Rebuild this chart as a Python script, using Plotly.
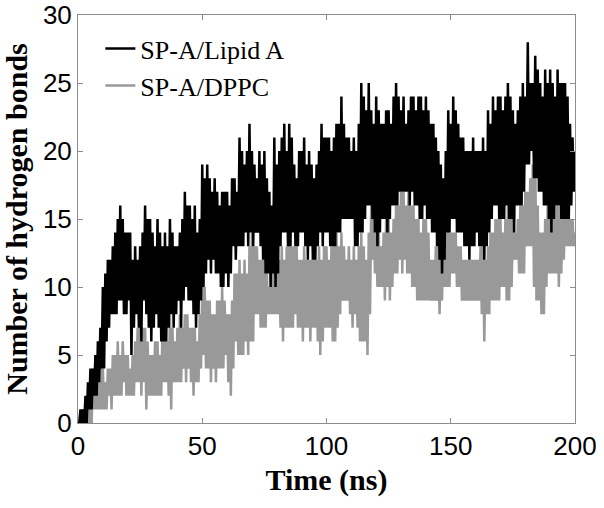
import plotly.graph_objects as go

# Time axis (ns), one sample every 0.5 ns
time_ns = [i * 0.5 for i in range(0, 401)]

# SP-A/Lipid A hydrogen bonds, 10 samples = 5 ns per row
lipid_a = [
    0, 0, 1, 0, 1, 0, 2, 0, 3, 1,
    4, 1, 4, 2, 5, 2, 6, 3, 7, 4,
    10, 4, 11, 6, 12, 7, 12, 8, 13, 8,
    14, 8, 15, 9, 16, 9, 15, 8, 14, 8,
    14, 9, 14, 5, 12, 7, 13, 8, 12, 7,
    13, 6, 14, 9, 16, 8, 15, 7, 15, 6,
    14, 7, 13, 8, 15, 7, 14, 6, 13, 6,
    14, 6, 13, 7, 15, 8, 14, 7, 13, 8,
    13, 9, 14, 7, 15, 9, 17, 10, 16, 9,
    16, 9, 15, 8, 16, 7, 14, 8, 15, 9,
    19, 10, 18, 11, 19, 12, 18, 11, 17, 12,
    18, 11, 17, 11, 16, 10, 17, 10, 17, 11,
    17, 10, 16, 11, 18, 13, 18, 12, 17, 13,
    21, 13, 20, 13, 19, 14, 20, 13, 22, 14,
    20, 13, 19, 14, 18, 14, 20, 13, 19, 12,
    20, 11, 18, 11, 17, 10, 16, 11, 21, 10,
    19, 11, 20, 13, 21, 14, 22, 14, 20, 13,
    22, 13, 21, 14, 19, 13, 18, 13, 20, 14,
    20, 14, 21, 13, 19, 12, 20, 13, 19, 12,
    18, 12, 19, 13, 20, 14, 22, 13, 21, 14,
    21, 14, 21, 13, 20, 13, 21, 13, 22, 14,
    22, 14, 24, 15, 22, 15, 21, 15, 21, 15,
    20, 15, 21, 13, 20, 13, 22, 14, 25, 14,
    24, 15, 23, 16, 25, 16, 23, 15, 22, 14,
    24, 13, 23, 14, 22, 15, 22, 15, 23, 14,
    23, 15, 22, 16, 24, 16, 25, 16, 24, 17,
    23, 17, 24, 17, 22, 17, 23, 16, 24, 17,
    24, 16, 23, 16, 24, 15, 24, 15, 23, 16,
    24, 15, 23, 15, 22, 14, 22, 14, 21, 13,
    20, 12, 19, 11, 18, 12, 20, 14, 23, 14,
    22, 15, 24, 15, 23, 14, 22, 14, 21, 14,
    21, 13, 20, 13, 20, 12, 20, 13, 21, 13,
    20, 14, 20, 13, 20, 13, 21, 12, 20, 13,
    23, 14, 22, 15, 24, 16, 23, 16, 24, 15,
    24, 15, 23, 15, 24, 16, 25, 15, 24, 15,
    23, 14, 22, 16, 23, 16, 24, 16, 25, 17,
    24, 19, 28, 19, 25, 20, 25, 18, 27, 18,
    26, 17, 25, 17, 24, 16, 26, 16, 25, 15,
    26, 14, 25, 15, 24, 16, 26, 16, 25, 15,
    25, 15, 25, 15, 24, 15, 22, 16, 21, 17,
    20,
]

# SP-A/DPPC hydrogen bonds, 10 samples = 5 ns per row
dppc = [
    0, 0, 0, 0, 1, 0, 1, 0, 2, 0,
    3, 0, 4, 1, 5, 1, 4, 1, 5, 1,
    4, 1, 3, 1, 4, 2, 4, 1, 5, 2,
    5, 2, 6, 2, 5, 2, 6, 3, 5, 2,
    5, 2, 4, 2, 5, 2, 6, 3, 7, 3,
    8, 2, 7, 3, 7, 1, 6, 2, 5, 2,
    5, 2, 6, 2, 6, 2, 5, 2, 7, 3,
    7, 3, 6, 2, 8, 1, 7, 3, 6, 3,
    7, 3, 8, 3, 7, 4, 8, 3, 8, 4,
    7, 3, 7, 2, 7, 3, 6, 3, 8, 4,
    10, 5, 10, 4, 9, 4, 9, 3, 8, 4,
    8, 3, 9, 4, 9, 4, 10, 4, 9, 5,
    8, 3, 8, 2, 9, 4, 11, 6, 11, 5,
    12, 5, 11, 5, 12, 6, 11, 5, 13, 6,
    14, 6, 13, 8, 13, 8, 12, 7, 12, 7,
    12, 7, 11, 8, 10, 8, 11, 8, 12, 8,
    12, 8, 12, 7, 13, 6, 12, 7, 13, 7,
    14, 7, 13, 7, 13, 8, 13, 7, 12, 7,
    12, 6, 13, 7, 12, 7, 12, 6, 12, 7,
    13, 7, 12, 6, 13, 5, 12, 6, 13, 7,
    13, 7, 12, 7, 13, 6, 14, 6, 14, 7,
    13, 8, 14, 9, 13, 9, 12, 9, 13, 8,
    12, 7, 13, 8, 12, 7, 13, 6, 14, 6,
    13, 6, 12, 5, 14, 8, 16, 12, 15, 11,
    14, 10, 14, 10, 13, 10, 14, 9, 15, 10,
    15, 9, 14, 10, 15, 11, 16, 11, 16, 12,
    17, 11, 17, 12, 16, 11, 17, 11, 16, 10,
    16, 10, 15, 9, 15, 9, 14, 9, 15, 9,
    15, 9, 14, 9, 12, 9, 12, 9, 13, 9,
    13, 8, 13, 9, 15, 10, 16, 10, 15, 10,
    14, 11, 14, 11, 14, 10, 13, 10, 13, 9,
    12, 9, 12, 9, 12, 9, 12, 9, 12, 9,
    12, 9, 12, 9, 13, 8, 13, 6, 12, 8,
    13, 8, 14, 9, 14, 9, 15, 9, 15, 9,
    15, 10, 14, 10, 15, 9, 16, 9, 16, 10,
    15, 12, 14, 12, 15, 11, 16, 11, 16, 11,
    17, 13, 17, 13, 18, 13, 19, 10, 20, 9,
    16, 9, 14, 8, 14, 8, 15, 10, 16, 11,
    17, 11, 16, 11, 16, 11, 16, 10, 16, 11,
    16, 12, 16, 13, 16, 13, 15, 13, 15, 13,
    14,
]

x_ticks = [0, 50, 100, 150, 200]
y_ticks = [0, 5, 10, 15, 20, 25, 30]

fig = go.Figure()
fig.add_trace(go.Scatter(x=time_ns, y=dppc, mode="lines", name="SP-A/DPPC",
                         line=dict(color="#999999", width=2.5)))
fig.add_trace(go.Scatter(x=time_ns, y=lipid_a, mode="lines", name="SP-A/Lipid A",
                         line=dict(color="#000000", width=2.5)))

axis_common = dict(showline=True, linecolor="#8c8c8c", linewidth=1, mirror="ticks",
                   ticks="inside", ticklen=5, tickcolor="#8c8c8c", showgrid=False,
                   zeroline=False, automargin=False, ticklabeloverflow="allow",
                   tickfont=dict(family="Liberation Sans, Arial", size=26, color="black"))

fig.update_layout(
    width=604, height=508,
    margin=dict(l=78, r=29, t=15, b=85),
    paper_bgcolor="white", plot_bgcolor="white",
    showlegend=True,
    legend=dict(x=0.045, y=0.975, xanchor="left", yanchor="top",
                traceorder="reversed", bgcolor="rgba(0,0,0,0)",
                font=dict(family="Liberation Serif, Times New Roman", size=26, color="black"),
                itemwidth=30),
    xaxis=dict(range=[0, 200], tickvals=x_ticks,
               title=dict(text="<b>Time (ns)</b>", standoff=8,
                          font=dict(family="Liberation Serif, Times New Roman", size=30, color="black")),
               **axis_common),
    yaxis=dict(range=[0, 30], tickvals=y_ticks,
               title=dict(text="<b>Number of hydrogen bonds</b>", standoff=8,
                          font=dict(family="Liberation Serif, Times New Roman", size=30, color="black")),
               **axis_common),
)

# remove the default page margin so the figure starts at the window corner
fig.write_html("out.html", config={"displayModeBar": False},
               post_script="document.body.style.margin='0px';")
